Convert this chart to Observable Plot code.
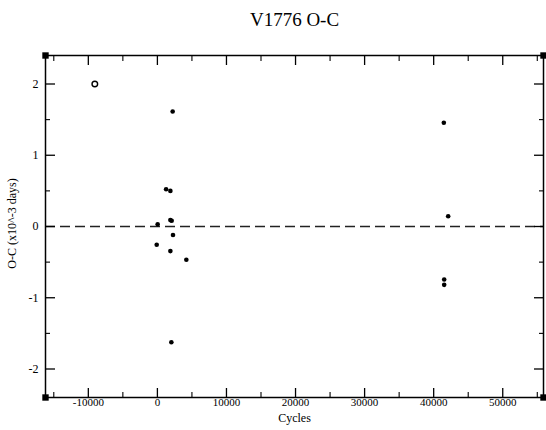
<!DOCTYPE html>
<html>
<head>
<meta charset="utf-8">
<script src="https://cdn.jsdelivr.net/npm/d3@7"></script>
<script src="https://cdn.jsdelivr.net/npm/@observablehq/plot@0.6"></script>
<style>
  html, body { margin: 0; padding: 0; background: white; }
</style>
</head>
<body>
<div id="chart"></div>
<script>
const titleText = "V1776 O-C";
const xLabel = "Cycles";
const yLabel = "O-C (x10^-3 days)";

const xDomain = [-16200, 55900];
const yDomain = [-2.4, 2.4];

const xMajorTicks = [-10000, 0, 10000, 20000, 30000, 40000, 50000];
const xMinorTicks = [-15000, -5000, 5000, 15000, 25000, 35000, 45000, 55000];
const yMajorTicks = [-2, -1, 0, 1, 2];
const yMinorTicks = [-1.5, -0.5, 0.5, 1.5];

// filled points
const cycles = [2210, 1260, 1880, 1880, 2070, 40, 2260, -100, 1880, 4190, 2020, 41470, 42100, 41520, 41520];
const oc = [1.615, 0.523, 0.50, 0.09, 0.08, 0.03, -0.12, -0.256, -0.345, -0.467, -1.625, 1.456, 0.143, -0.743, -0.819];

// open point
const openCycles = [-9060];
const openOC = [2.0];

const filled = cycles.map((c, i) => ({c, v: oc[i]}));
const open = openCycles.map((c, i) => ({c, v: openOC[i]}));
const corners = [];
for (const cx of xDomain) for (const cy of yDomain) corners.push({c: cx, v: cy});

const fmt = d => String(d);
const blank = () => "";

const chart = Plot.plot({
  width: 546,
  height: 430,
  marginTop: 55,
  marginBottom: 33,
  marginLeft: 45,
  marginRight: 3,
  style: {fontFamily: "'Liberation Serif', serif", fontSize: "12px", background: "white", color: "black"},
  x: {domain: xDomain, label: null},
  y: {domain: yDomain, label: null},
  marks: [
    Plot.ruleY([0], {stroke: "#222", strokeWidth: 1.5, strokeDasharray: "10,5"}),
    Plot.frame({stroke: "black", strokeWidth: 1.5}),
    // bottom axis
    Plot.axisX(xMajorTicks, {anchor: "bottom", tickSize: 0, tickPadding: 1, tickFormat: fmt, fontSize: 11}),
    Plot.axisX(xMajorTicks, {anchor: "bottom", tickSize: -9, tickFormat: blank, strokeWidth: 1.3}),
    Plot.axisX(xMinorTicks, {anchor: "bottom", tickSize: -5, tickFormat: blank, strokeWidth: 1.1}),
    // top axis
    Plot.axisX(xMajorTicks, {anchor: "top", tickSize: -9, tickFormat: blank, strokeWidth: 1.3}),
    Plot.axisX(xMinorTicks, {anchor: "top", tickSize: -5, tickFormat: blank, strokeWidth: 1.1}),
    // left axis
    Plot.axisY(yMajorTicks, {anchor: "left", tickSize: 0, tickPadding: 7, tickFormat: fmt, fontSize: 12}),
    Plot.axisY(yMajorTicks, {anchor: "left", tickSize: -10, tickFormat: blank, strokeWidth: 1.3}),
    Plot.axisY(yMinorTicks, {anchor: "left", tickSize: -5, tickFormat: blank, strokeWidth: 1.1}),
    // right axis
    Plot.axisY(yMajorTicks, {anchor: "right", tickSize: -10, tickFormat: blank, strokeWidth: 1.3}),
    Plot.axisY(yMinorTicks, {anchor: "right", tickSize: -5, tickFormat: blank, strokeWidth: 1.1}),
    // corner squares
    Plot.dot(corners, {x: "c", y: "v", symbol: "square", r: 3.6, fill: "black", clip: false}),
    // data
    Plot.dot(filled, {x: "c", y: "v", r: 2.3, fill: "black"}),
    Plot.dot(open, {x: "c", y: "v", r: 2.8, stroke: "black", strokeWidth: 1.4, fill: "white"}),
    // titles
    Plot.text([titleText], {frameAnchor: "top", dy: -36, lineAnchor: "middle", textAnchor: "middle", fontSize: 19, fill: "black"}),
    Plot.text([xLabel], {frameAnchor: "bottom", dy: 20.5, lineAnchor: "middle", textAnchor: "middle", fontSize: 12, fill: "black"}),
    Plot.text([yLabel], {frameAnchor: "left", dx: -33, dy: -3, rotate: -90, lineAnchor: "middle", textAnchor: "middle", fontSize: 12, fill: "black"})
  ]
});
document.getElementById("chart").appendChild(chart);
</script>
</body>
</html>
